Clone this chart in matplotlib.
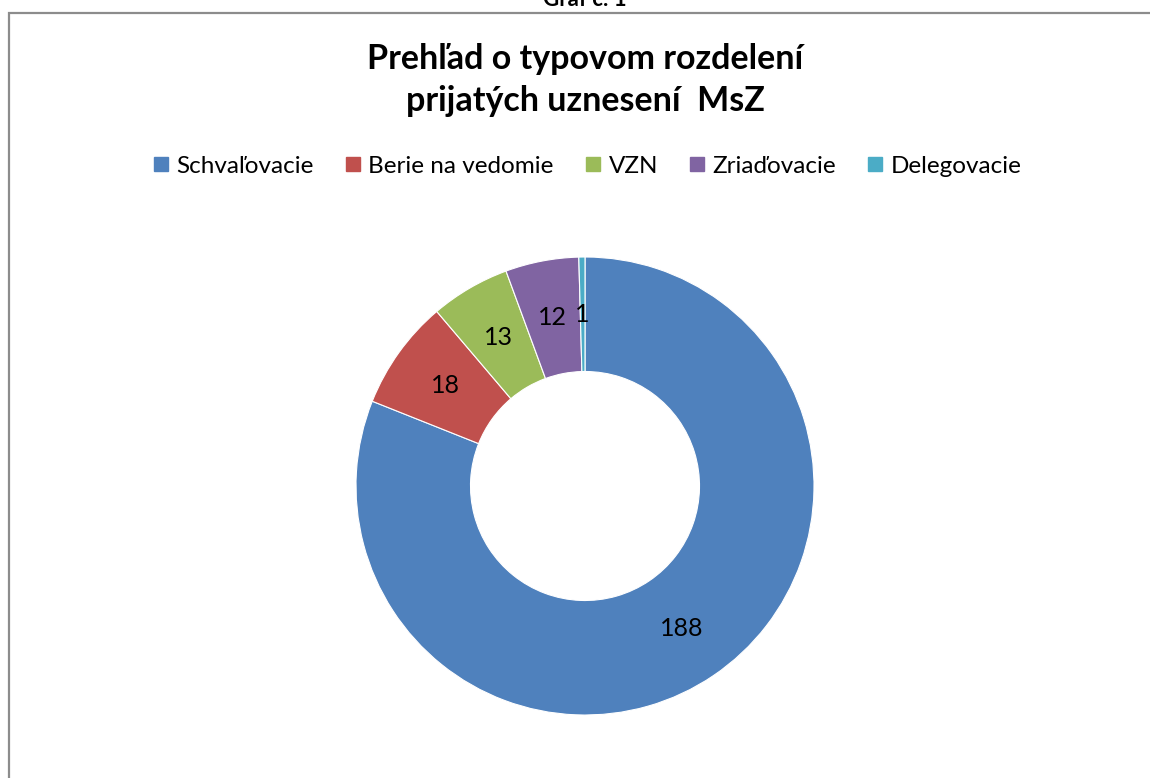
import matplotlib.pyplot as plt
from matplotlib.patches import Rectangle
from matplotlib.lines import Line2D

# Data
kategorie = ['Schvaľovacie', 'Berie na vedomie', 'VZN', 'Zriaďovacie', 'Delegovacie']
pocty = [188, 18, 13, 12, 1]
farby = ['#4F81BD', '#C0504D', '#9BBB59', '#8064A2', '#4BACC6']

plt.rcParams['font.family'] = ['Lato', 'DejaVu Sans']

W, H = 1150, 778
fig = plt.figure(figsize=(W / 100, H / 100), dpi=100)

# ramik grafu
fig.patches.append(Rectangle((9 / W, -0.05), 1.2, 1 - 13 / H + 0.05, transform=fig.transFigure,
                             fill=False, edgecolor='#8c8c8c', linewidth=1.6))

fig.text(585 / W, 1 - 6 / H, 'Graf č. 1', ha='center', va='baseline', fontsize=16, fontweight='bold')
fig.text(585 / W, 1 - 80 / H, 'Prehľad o typovom rozdelení\nprijatých uznesení  MsZ', ha='center',
         va='center', fontsize=24.5, fontweight='bold', linespacing=1.42)

# donut
cx, cy, r = 585, 486, 229
ax = fig.add_axes([(cx - r) / W, 1 - (cy + r) / H, 2 * r / W, 2 * r / H])
wedges, texty = ax.pie(pocty, colors=farby, startangle=90, counterclock=False,
                       wedgeprops=dict(width=0.5, edgecolor='white', linewidth=0.8),
                       labels=[str(p) for p in pocty], labeldistance=0.75,
                       textprops=dict(fontsize=18, ha='center', va='center'))
ax.set_xlim(-1, 1)
ax.set_ylim(-1, 1)
ax.set_aspect('equal')

# legenda
handles = [Line2D([], [], marker='s', linestyle='none', markersize=10, color=c) for c in farby]
fig.legend(handles, kategorie, loc='center', bbox_to_anchor=(587 / W, 1 - 166 / H), ncol=5,
           frameon=False, fontsize=17.5, handlelength=0.7, handletextpad=0.3, columnspacing=1.25)

fig.savefig('out.png', dpi=100)
